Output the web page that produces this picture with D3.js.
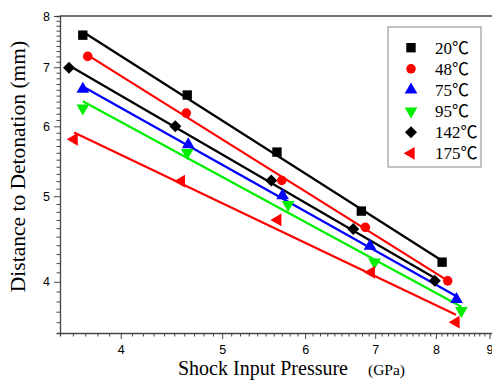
<!DOCTYPE html>
<html>
<head>
<meta charset="utf-8">
<script src="https://cdn.jsdelivr.net/npm/d3@7"></script>
<style>
  body { margin: 0; background: #fff; }
  svg { display: block; }
</style>
</head>
<body>
<div class="chart"></div>
<script>
// pop plot: run distance vs shock input pressure, log-log
const seriesNames = ["20℃", "48℃", "75℃", "95℃", "142℃", "175℃"];
const seriesColours = ["#000000", "#ff0000", "#0000ff", "#00ee00", "#000000", "#ff0000"];
const seriesSymbols = ["square", "circle", "up", "down", "diamond", "left"];

const pressure20 = [3.68, 4.63, 5.64, 6.79, 8.11];
const distance20 = [7.61, 6.51, 5.61, 4.81, 4.21];
const pressure48 = [3.72, 4.62, 5.70, 6.85, 8.21];
const distance48 = [7.20, 6.21, 5.21, 4.61, 4.01];
const pressure75 = [3.68, 4.64, 5.71, 6.92, 8.37];
const distance75 = [6.61, 5.72, 5.01, 4.39, 3.82];
const pressure95 = [3.68, 4.63, 5.78, 6.99, 8.46];
const distance95 = [6.29, 5.60, 4.89, 4.21, 3.71];
const pressure142 = [3.57, 4.51, 5.57, 6.67, 7.98];
const distance142 = [6.99, 6.00, 5.21, 4.59, 4.01];
const pressure175 = [3.61, 4.57, 5.65, 6.94, 8.36];
const distance175 = [5.80, 5.20, 4.70, 4.10, 3.60];

const xMajorTicks = [4, 5, 6, 7, 8, 9];
const yMajorTicks = [4, 5, 6, 7, 8];

const pressures = [pressure20, pressure48, pressure75, pressure95, pressure142, pressure175];
const distances = [distance20, distance48, distance75, distance95, distance142, distance175];

const series = seriesNames.map((name, i) => ({
  name: name,
  colour: seriesColours[i],
  symbol: seriesSymbols[i],
  points: pressures[i].map((p, j) => ({p: p, d: distances[i][j]}))
}));

const width = 492, height = 380;
const plotLeft = 60, plotTop = 16, plotRight = 492, plotBottom = 333;

const x = d3.scaleLog().domain([3.5, 9.05]).range([plotLeft, plotRight]);
const y = d3.scaleLog().domain([3.5, 8]).range([plotBottom, plotTop]);

const svg = d3.select(".chart").append("svg")
  .attr("width", width)
  .attr("height", height);

// minor ticks every 0.1
const xMinor = d3.range(36, 91).map(v => v / 10).filter(v => !xMajorTicks.includes(v));
const yMinor = d3.range(36, 80).map(v => v / 10).filter(v => !yMajorTicks.includes(v));

const axisColour = "#444";

function styleAxis(g) {
  g.select(".domain").attr("stroke", axisColour).attr("stroke-width", 1.3);
  g.selectAll(".tick line").attr("stroke", axisColour).attr("stroke-width", 1);
  g.selectAll(".tick text")
    .attr("fill", "#000")
    .attr("font-family", "'Liberation Sans', Arial, sans-serif")
    .attr("font-size", 12.5);
}

svg.append("g")
  .attr("transform", `translate(0,${plotBottom})`)
  .call(d3.axisBottom(x).tickValues(xMinor).tickSize(3.5).tickFormat(""))
  .call(styleAxis);

svg.append("g")
  .attr("transform", `translate(0,${plotBottom})`)
  .call(d3.axisBottom(x).tickValues(xMajorTicks).tickSize(6).tickPadding(6).tickFormat(d3.format("d")))
  .call(styleAxis)
  .call(g => g.select(".domain").remove());

svg.append("g")
  .attr("transform", `translate(${plotLeft},0)`)
  .call(d3.axisLeft(y).tickValues(yMinor).tickSize(3.5).tickFormat(""))
  .call(styleAxis);

svg.append("g")
  .attr("transform", `translate(${plotLeft},0)`)
  .call(d3.axisLeft(y).tickValues(yMajorTicks).tickSize(6).tickPadding(4).tickFormat(d3.format("d")))
  .call(styleAxis)
  .call(g => g.select(".domain").remove());

// top frame
svg.append("line")
  .attr("x1", plotLeft).attr("x2", plotRight)
  .attr("y1", plotTop).attr("y2", plotTop)
  .attr("stroke", axisColour)
  .attr("stroke-width", 1.3);

// axis titles
svg.append("text")
  .attr("x", 178)
  .attr("y", 375)
  .attr("font-family", "'Liberation Serif', 'Times New Roman', serif")
  .attr("font-size", 20)
  .text("Shock Input Pressure");

svg.append("text")
  .attr("x", 368)
  .attr("y", 375)
  .attr("font-family", "'Liberation Serif', 'Times New Roman', serif")
  .attr("font-size", 15.5)
  .text("(GPa)");

svg.append("text")
  .attr("transform", `translate(25,${(40 + 293) / 2}) rotate(-90)`)
  .attr("text-anchor", "middle")
  .attr("font-family", "'Liberation Serif', 'Times New Roman', serif")
  .attr("font-size", 21.5)
  .text("Distance to Detonation (mm)");

// symbols
function symbolPath(kind) {
  switch (kind) {
    case "square": return d3.symbol(d3.symbolSquare, 88)();
    case "circle": return d3.symbol(d3.symbolCircle, 72)();
    case "diamond": return d3.symbol(d3.symbolSquare, 72)();
    default: return d3.symbol(d3.symbolTriangle, 70)();
  }
}
function symbolRotate(kind) {
  return {diamond: 45, down: 180, left: -90}[kind] || 0;
}

// least squares fit in log-log space
function fitLine(points) {
  const lx = points.map(d => Math.log(d.p)), ly = points.map(d => Math.log(d.d));
  const mx = d3.mean(lx), my = d3.mean(ly);
  const slope = d3.sum(lx, (v, i) => (v - mx) * (ly[i] - my)) / d3.sum(lx, v => (v - mx) * (v - mx));
  const p0 = d3.min(points, d => d.p), p1 = d3.max(points, d => d.p);
  const f = p => Math.exp(my + slope * (Math.log(p) - mx));
  return [{p: p0, d: f(p0)}, {p: p1, d: f(p1)}];
}

const line = d3.line().x(d => x(d.p)).y(d => y(d.d));

svg.append("g")
    .attr("fill", "none")
    .attr("stroke-width", 2.2)
  .selectAll("path")
  .data(series)
  .join("path")
    .attr("stroke", d => d.colour)
    .attr("d", d => line(fitLine(d.points)));

series.forEach(s => {
  svg.append("g")
    .selectAll("path")
    .data(s.points)
    .join("path")
      .attr("d", symbolPath(s.symbol))
      .attr("fill", s.colour)
      .attr("transform", d => `translate(${x(d.p)},${y(d.d)}) rotate(${symbolRotate(s.symbol)})`);
});

// legend
const legend = svg.append("g");
legend.append("rect")
  .attr("x", 388).attr("y", 27)
  .attr("width", 93).attr("height", 140)
  .attr("fill", "#fff")
  .attr("stroke", "#888")
  .attr("stroke-width", 1);

const legendRow = d3.scaleLinear().domain([0, 5]).range([47.7, 153.3]);

const item = legend.selectAll("g")
  .data(series)
  .join("g")
    .attr("transform", (d, i) => `translate(0,${legendRow(i)})`);

item.append("path")
  .attr("d", d => symbolPath(d.symbol))
  .attr("fill", d => d.colour)
  .attr("transform", d => `translate(411,0) rotate(${symbolRotate(d.symbol)})`);

item.append("text")
  .attr("x", 435)
  .attr("y", 6)
  .attr("font-family", "'Liberation Serif', 'Times New Roman', 'Noto Sans CJK SC', serif")
  .attr("font-size", 17)
  .text(d => d.name);
</script>
</body>
</html>
